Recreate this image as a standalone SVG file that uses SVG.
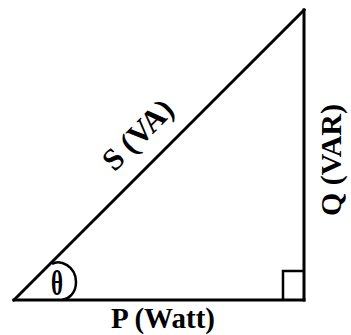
<svg xmlns="http://www.w3.org/2000/svg" width="351" height="335" viewBox="0 0 351 335">
<style>
.ln{stroke:#000;stroke-width:3;fill:none;stroke-linecap:square}
.thin{stroke:#000;stroke-width:2.5;fill:none}
.lbl{font-family:"Liberation Serif","Times New Roman",serif;font-weight:bold;fill:#000}
.th{font-family:"Liberation Serif","Times New Roman",serif;font-size:28px;font-weight:bold;fill:#000}
</style>
<rect width="351" height="335" fill="#fff"/>
<g id="connectors">
<line class="ln" x1="14" y1="300" x2="304" y2="10"/>
<line class="ln" x1="304" y1="10" x2="304" y2="300"/>
<line class="ln" x1="14" y1="300" x2="304" y2="300"/>
</g>
<g id="right-angle">
<polyline class="thin" points="283,300 283,271 304,271"/>
</g>
<g id="angle">
<path class="thin" d="M 52 264 C 60 259, 76 266, 76 282 C 76 294, 68 299, 62 300"/>
<text class="th" x="0" y="0" text-anchor="middle" transform="translate(57,295) scale(0.82,1.25)">θ</text>
</g>
<g id="label-S">
<text class="lbl" font-size="31" x="0" y="0" text-anchor="middle" transform="translate(145,142) rotate(-45)">S (VA)</text>
</g>
<g id="label-Q">
<text class="lbl" font-size="30" x="0" y="0" text-anchor="middle" transform="translate(341,160) rotate(-90)">Q (VAR)</text>
</g>
<g id="label-P">
<text class="lbl" font-size="29" x="163" y="328" text-anchor="middle">P (Watt)</text>
</g>
</svg>
